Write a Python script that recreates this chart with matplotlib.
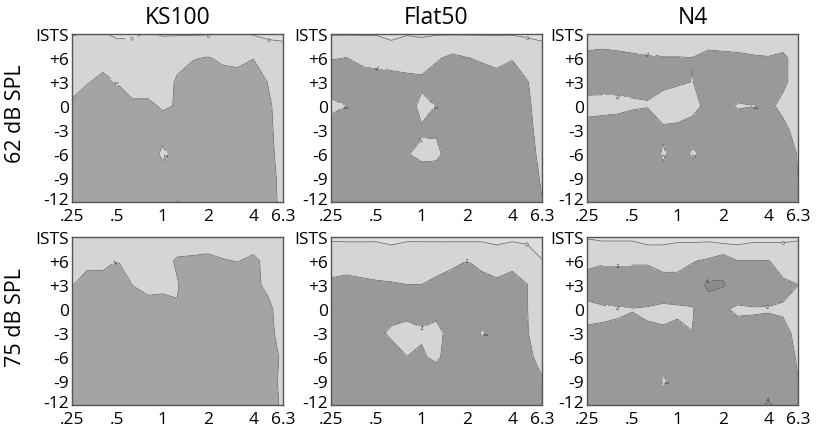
import matplotlib
matplotlib.use("Agg")
import matplotlib.pyplot as plt
import matplotlib.transforms as mtransforms
import numpy as np

# ---------------- data ----------------
freqs = [0.25, 0.315, 0.4, 0.5, 0.63, 0.8, 1.0, 1.25, 1.6, 2.0, 2.5, 3.15, 4.0, 5.0, 6.3]
snr_rows = [9, 6, 3, 0, -3, -6, -9, -12]          # 9 = ISTS row
ytick_vals = [9, 6, 3, 0, -3, -6, -9, -12]
ytick_labels = ['ISTS', '+6', '+3', '0', '-3', '-6', '-9', '-12']
xtick_vals = [0.25, 0.5, 1, 2, 4, 6.3]
xtick_labels = ['.25', '.5', '1', '2', '4', '6.3']
conditions = ['KS100', 'Flat50', 'N4']
levels_spl = ['62 dB SPL', '75 dB SPL']

# rows: ISTS, +6, +3, 0, -3, -6, -9, -12 ; columns: freqs
ks100_62 = [
    [0.1, -0.1, -0.1, 0.25, 0.2, -0.1, 0.1, 0.1, 0.1, 0.1, -0.1, -0.1, 0.1, 0.3, 0.43],
    [-1.0, -1.0, -1.4, -1.0, -1.0, -1.0, -1.0, -1.3, -1.9, -2.1, -1.7, -1.6, -1.95, -1.0, -1.0],
    [-1.3, -1.9, -2.4, -1.9, -1.3, -1.3, -1.0, -2.3, -2.9, -3.0, -2.7, -2.6, -3.0, -1.94, -1.0],
    [-2.3, -2.9, -3.0, -2.9, -2.3, -2.3, -1.8, -2.1, -3.0, -3.0, -3.0, -3.0, -3.0, -2.3, -1.05],
    [-3.0, -3.0, -3.0, -3.0, -3.0, -3.0, -2.8, -3.0, -3.0, -3.0, -3.0, -3.0, -3.0, -2.5, -0.9],
    [-3.0, -3.0, -3.0, -3.0, -3.0, -3.0, -1.6, -3.0, -3.0, -3.0, -3.0, -3.0, -3.0, -2.6, -1.1],
    [-3.0, -3.0, -3.0, -3.0, -3.0, -3.0, -3.0, -3.0, -3.0, -3.0, -3.0, -3.0, -3.0, -3.0, -1.1],
    [-3.0, -3.0, -3.0, -3.0, -3.0, -3.0, -3.0, -1.9, -3.0, -3.0, -3.0, -3.0, -3.0, -3.0, -1.28],
]
flat50_62 = [
    [0.1, 0.1, 0.1, 0.1, 0.53, 0.1, 0.1, 0.1, 0.1, 0.1, 0.1, 0.1, 0.1, 0.2, 0.43],
    [-1.87, -2.03, -1.67, -1.6, -1.47, -1.37, -0.6, -1.8, -2.43, -2.05, -1.8, -1.57, -1.9, -1.1, -1.0],
    [-3.4, -3.0, -2.67, -2.6, -2.47, -2.37, -2.6, -2.8, -3.0, -3.0, -2.8, -2.57, -2.9, -2.1, -1.0],
    [-1.3, -2.1, -3.0, -3.0, -3.0, -3.2, -1.2, -2.1, -3.0, -3.0, -3.0, -3.0, -3.0, -2.3, -1.15],
    [-3.2, -3.0, -3.0, -3.0, -3.0, -3.0, -2.3, -2.2, -3.0, -3.0, -3.0, -3.0, -3.0, -2.5, -1.25],
    [-3.0, -3.0, -3.0, -3.0, -3.0, -2.1, -1.5, -1.6, -3.0, -3.0, -3.0, -3.0, -3.0, -2.6, -1.55],
    [-3.0, -3.0, -3.0, -3.0, -3.0, -3.0, -3.0, -3.0, -3.0, -3.0, -3.0, -3.0, -3.0, -2.8, -1.8],
    [-3.0, -3.0, -3.0, -3.0, -3.0, -3.0, -3.0, -3.0, -3.0, -3.0, -3.0, -3.0, -3.0, -3.0, -2.05],
]
n4_62 = [
    [-1.0, -1.0, 0.03, -1.0, -1.0, -1.0, -1.0, -1.0, -1.0, -1.0, -1.0, -1.0, -1.0, -1.0, -1.0],
    [-2.43, -2.59, -2.87, -2.25, -2.2, -2.05, -2.05, -2.02, -2.5, -2.39, -2.3, -2.15, -2.07, -2.3, -1.3],
    [-2.86, -2.79, -3.05, -2.6, -2.5, -2.43, -2.2, -1.97, -2.5, -3.0, -3.0, -3.0, -3.0, -2.3, -1.3],
    [-1.3, -1.3, -1.3, -1.7, -1.85, -1.2, -1.0, -1.5, -2.5, -2.6, -1.85, -1.97, -2.3, -1.62, -1.0],
    [-2.79, -3.05, -3.4, -3.5, -3.9, -2.24, -2.43, -2.66, -3.0, -3.0, -3.0, -3.0, -3.0, -2.4, -1.4],
    [-3.0, -3.0, -3.0, -3.0, -3.0, -1.8, -3.0, -1.75, -3.0, -3.0, -3.0, -3.0, -3.0, -3.0, -1.89],
    [-3.0, -3.0, -3.0, -3.0, -3.0, -2.4, -3.0, -3.0, -3.0, -3.0, -3.0, -3.0, -3.0, -3.0, -1.99],
    [-3.0, -3.0, -3.0, -3.0, -3.0, -3.0, -3.0, -3.0, -3.0, -3.0, -3.0, -3.0, -3.0, -3.0, -2.05],
]
ks100_75 = [
    [-1.0, -1.0, -1.0, -1.0, -1.0, -1.0, -1.0, -1.0, -1.0, -1.0, -1.0, -1.0, -1.0, -1.0, -1.0],
    [-1.0, -1.6, -1.6, -2.03, -1.0, -1.0, -1.5, -2.2, -2.3, -2.43, -2.11, -1.95, -2.37, -1.45, -1.0],
    [-1.95, -2.6, -2.6, -3.0, -1.98, -1.57, -1.63, -1.9, -3.0, -3.0, -3.0, -2.95, -2.5, -1.5, -1.0],
    [-2.95, -3.0, -3.0, -3.0, -2.98, -2.57, -2.63, -2.08, -3.0, -3.0, -3.0, -3.0, -3.0, -2.56, -0.69],
    [-3.0, -3.0, -3.0, -3.0, -3.0, -3.0, -3.0, -3.0, -3.0, -3.0, -3.0, -3.0, -3.0, -2.4, -1.4],
    [-3.0, -3.0, -3.0, -3.0, -3.0, -3.0, -3.0, -3.0, -3.0, -3.0, -3.0, -3.0, -3.0, -2.7, -1.7],
    [-3.0, -3.0, -3.0, -3.0, -3.0, -3.0, -3.0, -3.0, -3.0, -3.0, -3.0, -3.0, -3.0, -2.6, -1.6],
    [-3.0, -3.0, -3.0, -3.0, -3.0, -3.0, -3.0, -3.0, -3.0, -3.0, -3.0, -3.0, -3.0, -2.7, -1.7],
]
flat50_75 = [
    [0.3, 0.36, 0.33, 0.3, 0.57, 0.25, 0.25, 0.34, 0.42, 0.5, 0.39, 0.65, 0.39, 0.43, 1.0],
    [-1.3, -1.42, -1.3, -1.2, -1.13, -1.02, -1.02, -1.35, -1.67, -2.02, -1.57, -1.3, -1.57, -1.0, -0.08],
    [-2.3, -2.42, -2.3, -2.2, -2.13, -2.02, -2.02, -2.35, -2.67, -3.0, -2.57, -2.3, -2.57, -2.05, -1.0],
    [-3.0, -3.0, -3.0, -3.0, -2.93, -2.7, -2.35, -2.7, -3.0, -3.0, -3.0, -3.0, -3.0, -2.05, -1.0],
    [-1.97, -3.0, -3.0, -2.5, -1.6, -1.3, -1.9, -1.3, -3.05, -2.6, -1.9, -2.6, -3.0, -2.1, -1.0],
    [-3.0, -3.0, -3.0, -3.0, -3.0, -2.02, -2.11, -1.8, -2.6, -3.0, -3.0, -3.0, -3.0, -2.3, -1.55],
    [-3.0, -3.0, -3.0, -3.0, -3.0, -3.0, -3.0, -2.67, -3.0, -3.0, -3.0, -3.0, -3.0, -3.0, -2.11],
    [-3.0, -3.0, -3.0, -3.0, -3.0, -3.0, -3.0, -3.0, -3.0, -3.0, -3.0, -3.0, -3.0, -3.0, -3.0],
]
n4_75 = [
    [0.14, 0.37, 0.37, 0.37, 0.9, 0.75, 0.46, 0.57, 0.57, 1.17, 1.0, 0.6, 0.6, 0.39, 0.2],
    [-1.63, -1.83, -1.83, -1.83, -1.83, -1.53, -1.53, -1.9, -2.29, -3.17, -2.05, -2.03, -2.07, -1.3, -1.0],
    [-2.63, -2.83, -2.83, -2.83, -2.83, -2.53, -2.53, -2.9, -4.4, -4.2, -2.73, -3.5, -2.9, -2.3, -2.02],
    [-1.66, -1.83, -1.96, -1.97, -1.91, -1.84, -1.89, -1.9, -3.0, -2.1, -1.85, -1.85, -1.9, -1.88, -1.0],
    [-2.17, -2.13, -2.06, -2.2, -2.09, -2.08, -2.15, -2.01, -3.0, -3.0, -2.35, -2.45, -2.49, -2.24, -1.76],
    [-3.0, -3.0, -3.0, -3.0, -3.0, -3.0, -3.0, -3.0, -3.0, -3.0, -3.0, -3.0, -3.0, -3.0, -1.75],
    [-3.0, -3.0, -3.0, -3.0, -3.0, -1.85, -3.0, -3.0, -3.0, -3.0, -3.0, -3.0, -3.0, -3.0, -2.05],
    [-3.0, -3.0, -3.0, -3.0, -3.0, -3.0, -3.0, -3.0, -3.0, -3.0, -3.0, -3.0, -4.3, -3.0, -3.0],
]
panels = [[ks100_62, flat50_62, n4_62], [ks100_75, flat50_75, n4_75]]

fill_levels = [-10, -4, -2, 0, 10]
line_levels = [-4, -2, 0]

# ---------------- styling ----------------
FONT = ['Open Sans', 'DejaVu Sans']
plt.rcParams['font.family'] = FONT

light_top = '#dddddf'
light = '#d5d5d7'
dark_cols = ['#a4a4a6', '#99999b', '#99999b']
darker = '#8c8c8e'

fig = plt.figure(figsize=(8.16, 4.35), dpi=100)
W, H = 816, 435
col_left = [72, 331, 587]
ax_w, ax_h = 211, 168
row_top = [35, 238]

X, Y = np.meshgrid(freqs, snr_rows)
lift = mtransforms.ScaledTranslation(0, 3 / 72, fig.dpi_scale_trans)

for r in range(2):
    for c in range(3):
        ax = fig.add_axes([col_left[c] / W, 1 - (row_top[r] + ax_h) / H, ax_w / W, ax_h / H])
        Z = np.array(panels[r][c])
        ax.contourf(X, Y, Z, levels=fill_levels,
                    colors=[darker, dark_cols[c], light, light_top])
        cs = ax.contour(X, Y, Z, levels=line_levels, colors='#5f5f5f',
                        linewidths=0.5, linestyles='solid')
        ax.clabel(cs, fmt='%d', fontsize=3.5, inline=True, inline_spacing=1, colors='#222222')
        ax.set_xscale('log')
        ax.set_xlim(0.25, 6.3)
        ax.set_ylim(-12, 9)
        ax.set_xticks(xtick_vals)
        ax.set_xticklabels(xtick_labels)
        ax.xaxis.set_minor_locator(matplotlib.ticker.NullLocator())
        ax.set_yticks(ytick_vals)
        ax.set_yticklabels(ytick_labels)
        ax.tick_params(length=0, labelsize=12.5, pad=2)
        ax.tick_params(axis='x', pad=4)
        # lift the bottom "-12" label slightly so it clears the ".25" label
        lab = ax.get_yticklabels()[-1]
        lab.set_transform(lab.get_transform() + lift)
        for s in ax.spines.values():
            s.set_color('#555555')
            s.set_linewidth(1.0)
        if r == 0:
            ax.set_title(conditions[c], fontsize=16.5, pad=8)

fig.text(16 / W, 1 - 114 / H, levels_spl[0], rotation=90, ha='center', va='center', fontsize=15.5)
fig.text(16 / W, 1 - 318 / H, levels_spl[1], rotation=90, ha='center', va='center', fontsize=15.5)

fig.savefig('out.png', dpi=100)
